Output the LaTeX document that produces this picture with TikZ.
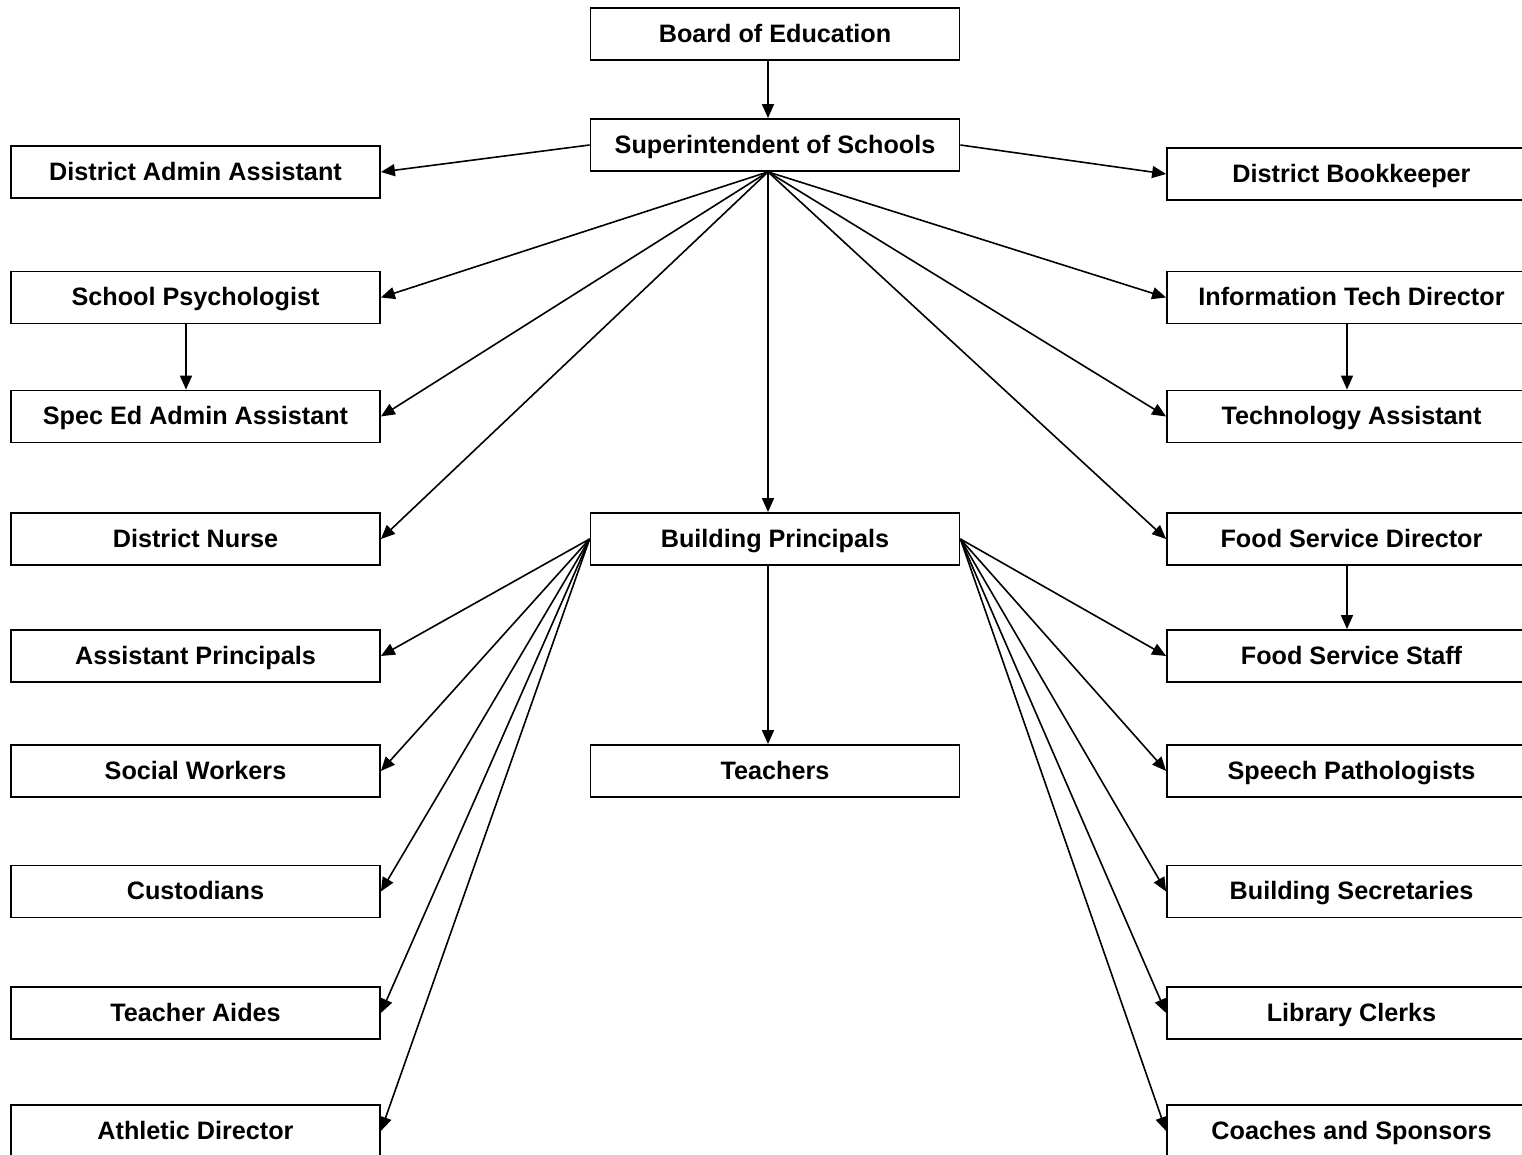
\documentclass[tikz,border=0pt]{standalone}
\usepackage{fontspec}
\setmainfont{Liberation Sans}
\usetikzlibrary{arrows.meta}
\begin{document}
\begin{tikzpicture}[x=0.5pt,y=-0.5pt,
  box/.style={draw,line width=0.9pt,minimum width=184.5pt,minimum height=26pt,inner sep=0pt,
    text height=10pt,text depth=1.6pt,
    font=\fontsize{12.6pt}{14pt}\selectfont\bfseries},
  arr/.style={line width=0.8pt,-{Triangle[length=7pt,width=6pt]}}]
\useasboundingbox (0,0) rectangle (1522,1155);
\clip (0,0) rectangle (1522,1155);
% centre column
\node[box] (board) at (775,34) {Board of Education};
\node[box] (sup) at (775,145) {Superintendent of Schools};
\node[box] (bp) at (775,539) {Building Principals};
\node[box] (teach) at (775,771) {Teachers};
% left column
\node[box] (daa) at (195.5,172) {District Admin Assistant};
\node[box] (psy) at (195.5,297.5) {School Psychologist};
\node[box] (sped) at (195.5,416.5) {Spec Ed Admin Assistant};
\node[box] (nurse) at (195.5,539) {District Nurse};
\node[box] (ap) at (195.5,656) {Assistant Principals};
\node[box] (sw) at (195.5,771) {Social Workers};
\node[box] (cust) at (195.5,891.5) {Custodians};
\node[box] (aide) at (195.5,1013) {Teacher Aides};
\node[box] (ath) at (195.5,1131) {Athletic Director};
% right column
\node[box] (book) at (1351.5,174) {District Bookkeeper};
\node[box] (itd) at (1351.5,297.5) {Information Tech Director};
\node[box] (tech) at (1351.5,416.5) {Technology Assistant};
\node[box] (fsd) at (1351.5,539) {Food Service Director};
\node[box] (fss) at (1351.5,656) {Food Service Staff};
\node[box] (speech) at (1351.5,771) {Speech Pathologists};
\node[box] (sec) at (1351.5,891.5) {Building Secretaries};
\node[box] (lib) at (1351.5,1013) {Library Clerks};
\node[box] (coach) at (1351.5,1131) {Coaches and Sponsors};
% connectors
\coordinate (supb) at ([xshift=-3.5pt]sup.south);
\draw[arr] ([xshift=-3.5pt]board.south) -- ([xshift=-3.5pt]sup.north);
\draw[arr] (sup.west) -- (daa.east);
\draw[arr] (sup.east) -- (book.west);
\foreach \t in {psy,sped,nurse}{\draw[arr] (supb) -- (\t.east);}
\foreach \t in {itd,tech,fsd}{\draw[arr] (supb) -- (\t.west);}
\draw[arr] (supb) -- ([xshift=-3.5pt]bp.north);
\draw[arr] ([xshift=-4.75pt]psy.south) -- ([xshift=-4.75pt]sped.north);
\draw[arr] ([xshift=-2.25pt]itd.south) -- ([xshift=-2.25pt]tech.north);
\draw[arr] ([xshift=-2.25pt]fsd.south) -- ([xshift=-2.25pt]fss.north);
\foreach \t in {ap,sw,cust,aide,ath}{\draw[arr] (bp.west) -- (\t.east);}
\foreach \t in {fss,speech,sec,lib,coach}{\draw[arr] (bp.east) -- (\t.west);}
\draw[arr] ([xshift=-3.5pt]bp.south) -- ([xshift=-3.5pt]teach.north);
\end{tikzpicture}
\end{document}
